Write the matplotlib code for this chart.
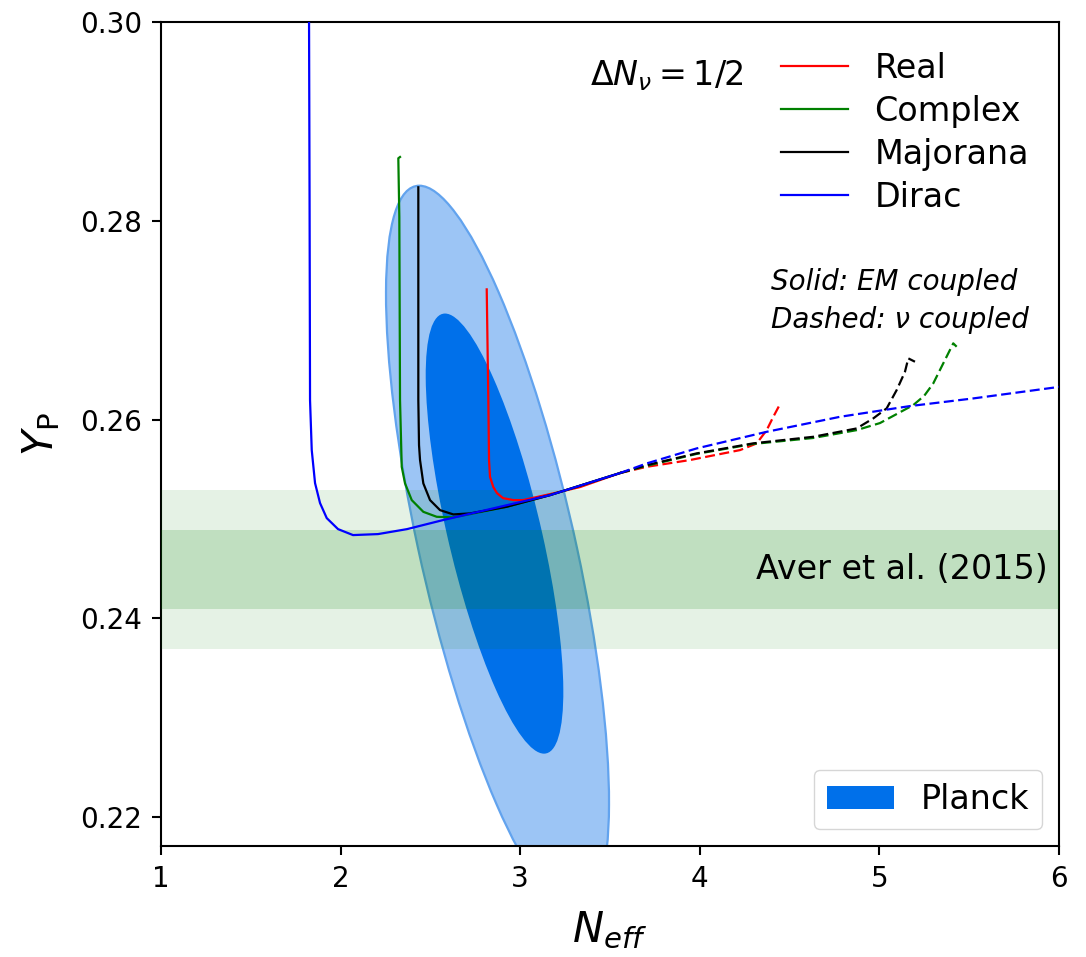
import numpy as np
import matplotlib
matplotlib.use("Agg")
import matplotlib.pyplot as plt
from matplotlib.patches import Ellipse, Patch
from matplotlib.transforms import Affine2D

# --- curves (Neff, Yp) ---
real_x = [2.8135, 2.8224, 2.8263, 2.8318, 2.8502, 2.8708, 2.9042, 2.9616, 3.0156, 3.1659, 3.3330, 3.5557]
real_y = [0.27310, 0.26196, 0.25593, 0.25424, 0.25321, 0.25260, 0.25210, 0.25190, 0.25190, 0.25250, 0.25321, 0.25462]
real_dx = [3.5557, 3.7043, 3.9454, 4.2238, 4.3168, 4.3725, 4.4093, 4.4410]
real_dy = [0.25462, 0.25525, 0.25593, 0.25693, 0.25760, 0.25894, 0.26028, 0.26136]

cplx_x = [2.3307, 2.3212, 2.3268, 2.3307, 2.3402, 2.3586, 2.3959, 2.4605, 2.5351, 2.6275, 2.7205, 2.9248, 3.1659, 3.5557]
cplx_y = [0.28642, 0.28629, 0.28041, 0.26196, 0.25525, 0.25358, 0.25190, 0.25072, 0.25022, 0.25016, 0.25049, 0.25123, 0.25240, 0.25462]
cplx_dx = [3.5557, 3.7043, 3.9827, 4.2979, 4.6319, 4.8736, 5.0033, 5.1888, 5.2500, 5.3000, 5.3558, 5.4114, 5.4304]
cplx_dy = [0.25462, 0.25535, 0.25655, 0.25755, 0.25815, 0.25894, 0.25965, 0.26146, 0.26240, 0.26364, 0.26566, 0.26767, 0.26733]

maj_x = [2.4326, 2.4326, 2.4365, 2.4421, 2.4605, 2.4978, 2.5535, 2.6275, 2.7205, 2.9248, 3.1659, 3.5557]
maj_y = [0.28337, 0.26196, 0.25743, 0.25593, 0.25358, 0.25190, 0.25089, 0.25046, 0.25056, 0.25123, 0.25240, 0.25462]
maj_dx = [3.5557, 3.7043, 3.9827, 4.2979, 4.6319, 4.8736, 4.9660, 5.0406, 5.0963, 5.1425, 5.1609, 5.1982]
maj_dy = [0.25462, 0.25542, 0.25660, 0.25761, 0.25827, 0.25911, 0.26012, 0.26113, 0.26297, 0.26481, 0.26616, 0.26582]

dirac_x = [1.8241, 1.8270, 1.8296, 1.8391, 1.8575, 1.8853, 1.9226, 1.9855, 2.0690, 2.2082, 2.3697, 2.5702, 3.1659, 3.5557]
dirac_y = [0.30000, 0.28211, 0.26196, 0.25693, 0.25361, 0.25160, 0.25009, 0.24898, 0.24838, 0.24848, 0.24898, 0.24989, 0.25240, 0.25462]
dirac_dx = [3.5557, 3.7043, 3.9827, 4.3725, 4.7806, 5.0217, 5.1704, 5.5228, 6.0056]
dirac_dy = [0.25462, 0.25559, 0.25710, 0.25877, 0.26028, 0.26095, 0.26136, 0.26213, 0.26330]

# --- Planck contours: centre, topmost point, horizontal half-width ---
planck68_center = (2.8569, 0.24853)
planck68_top = (2.5813, 0.27067)
planck68_halfwidth = 0.2662
planck95_center = (2.8736, 0.24707)
planck95_top = (2.4382, 0.28353)
planck95_halfwidth = 0.4427

# Aver et al. (2015): Yp = 0.2449 +- 0.0040
aver_mean = 0.2449
aver_err = 0.0040


def contour(ax, center, top, halfwidth, **kw):
    cx, cy = center
    ux, uy = top[0] - cx, top[1] - cy
    m = Affine2D(np.array([[ux, halfwidth, cx], [uy, 0.0, cy], [0, 0, 1]]))
    ax.add_patch(Ellipse((0, 0), 2, 2, transform=m + ax.transData, **kw))


fig = plt.figure(figsize=(10.86, 9.57), dpi=100)
ax = fig.add_axes([0.1483, 0.116, 0.8268, 0.861])

contour(ax, planck95_center, planck95_top, planck95_halfwidth, fc='#9cc5f5', ec='#62a3ee', lw=1.6, zorder=1)
contour(ax, planck68_center, planck68_top, planck68_halfwidth, fc='#0070ea', ec='none', zorder=2)

ax.axhspan(aver_mean - 2*aver_err, aver_mean + 2*aver_err, color='green', alpha=0.1, lw=0, zorder=3)
ax.axhspan(aver_mean - aver_err, aver_mean + aver_err, color='green', alpha=0.16, lw=0, zorder=3)

lw = 1.6
ds = (0, (4.5, 2))
ax.plot(real_x, real_y, color='red', lw=lw, label='Real', zorder=5)
ax.plot(cplx_x, cplx_y, color='green', lw=lw, label='Complex', zorder=5)
ax.plot(maj_x, maj_y, color='black', lw=lw, label='Majorana', zorder=5)
ax.plot(dirac_x, dirac_y, color='blue', lw=lw, label='Dirac', zorder=5)
ax.plot(real_dx, real_dy, color='red', lw=lw, ls=ds, zorder=5)
ax.plot(cplx_dx, cplx_dy, color='green', lw=lw, ls=ds, zorder=5)
ax.plot(maj_dx, maj_dy, color='black', lw=lw, ls=ds, zorder=5)
ax.plot(dirac_dx, dirac_dy, color='blue', lw=lw, ls=ds, zorder=5)

leg1 = ax.legend(loc='upper right', fontsize=24, frameon=False, labelspacing=0.3)
ax.add_artist(leg1)
ax.legend(handles=[Patch(fc='#0070ea', label='Planck')], loc='lower right', fontsize=24)

ax.text(0.478, 0.935, r'$\Delta N_\nu = 1/2$', transform=ax.transAxes, fontsize=24, va='center', ha='left')
ax.text(0.679, 0.684, 'Solid: EM coupled', transform=ax.transAxes, fontsize=20, style='italic', va='center')
ax.text(0.679, 0.638, 'Dashed: \u03bd coupled', transform=ax.transAxes, fontsize=20, style='italic', va='center')
ax.text(5.939, aver_mean, 'Aver et al. (2015)', fontsize=24, ha='right', va='center', zorder=6)

ax.set_xlim(1, 6)
ax.set_ylim(0.2171, 0.30)
ax.set_xticks([1, 2, 3, 4, 5, 6])
ax.set_yticks([0.22, 0.24, 0.26, 0.28, 0.30])
ax.set_yticklabels(['0.22', '0.24', '0.26', '0.28', '0.30'])
ax.tick_params(labelsize=20, width=1.5, length=6.5, pad=7)
for s in ax.spines.values():
    s.set_linewidth(1.5)
ax.set_xlabel(r'$N_{eff}$', fontsize=30, labelpad=12)
ax.set_ylabel(r'$Y_\mathrm{P}$', fontsize=30, labelpad=13)

fig.savefig('out.png', dpi=100)
